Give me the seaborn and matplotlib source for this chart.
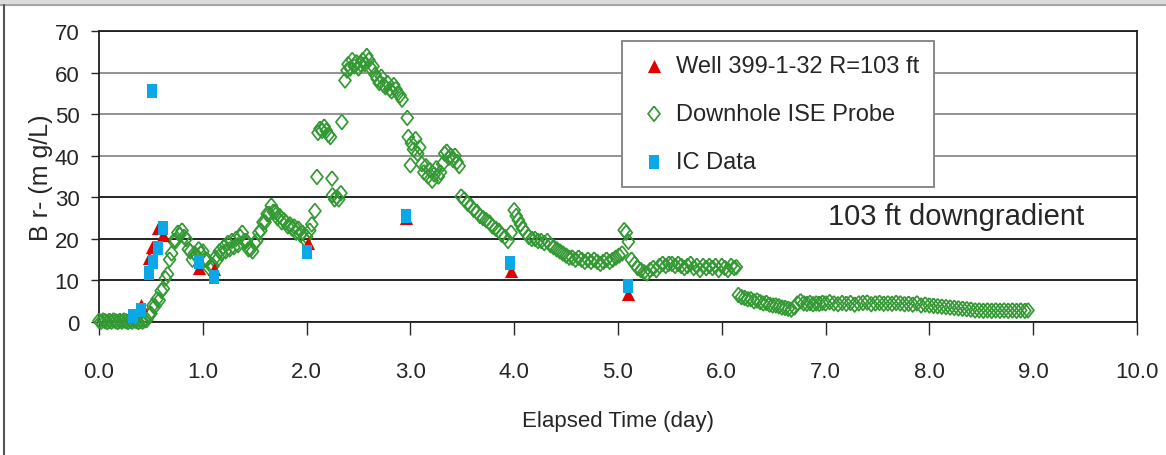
import seaborn as sns
import matplotlib.pyplot as plt
from matplotlib.patches import Rectangle
from matplotlib.lines import Line2D
from matplotlib.ticker import FormatStrFormatter

# Well 399-1-32 R=103 ft (red triangles)
well_t = [0.40, 0.48, 0.51, 0.57, 0.62, 0.96, 1.11, 2.01, 2.96, 3.97, 5.10]
well_br = [4.0, 15.5, 18.0, 22.5, 21.0, 13.0, 12.8, 19.0, 25.0, 12.3, 6.8]

# IC data (blue squares)
ic_t = [0.33, 0.40, 0.48, 0.51, 0.52, 0.57, 0.62, 0.96, 1.11, 2.00, 2.96, 3.96, 5.10]
ic_br = [1.4, 2.9, 11.7, 55.5, 14.5, 17.7, 22.5, 14.5, 10.9, 16.9, 25.4, 14.1, 8.7]

# Downhole ISE probe (green diamonds)
probe_t = [
    0.00, 0.02, 0.04, 0.06, 0.08, 0.10, 0.12, 0.14, 0.16, 0.18, 0.20, 0.22,
    0.24, 0.26, 0.28, 0.30, 0.32, 0.34, 0.36, 0.38, 0.40, 0.42, 0.44,
    0.46, 0.48, 0.50, 0.52, 0.54, 0.56, 0.58, 0.60, 0.62, 0.64, 0.66, 0.68,
    0.70, 0.72, 0.74, 0.76, 0.78, 0.80, 0.82, 0.84, 0.86, 0.88, 0.90, 0.92,
    0.94, 0.96, 0.98, 1.00, 1.02, 1.04, 1.06, 1.08, 1.10, 1.12, 1.14, 1.16,
    1.18, 1.20, 1.22, 1.24, 1.26, 1.28, 1.30, 1.32, 1.34, 1.36, 1.38, 1.40,
    1.42, 1.44, 1.46, 1.48, 1.50, 1.52, 1.54, 1.56, 1.58, 1.60, 1.62, 1.64,
    1.66, 1.68, 1.70, 1.72, 1.74, 1.76, 1.78, 1.80, 1.82, 1.84, 1.86, 1.88,
    1.90, 1.92, 1.94, 1.96, 1.98, 2.00,
    2.03, 2.05, 2.08, 2.10, 2.11, 2.13, 2.15, 2.17, 2.19, 2.21, 2.23, 2.245,
    2.25, 2.27, 2.29, 2.31, 2.33, 2.34, 2.37, 2.39, 2.40, 2.42, 2.44, 2.46,
    2.48, 2.50, 2.52, 2.54, 2.56, 2.58, 2.60, 2.62, 2.64, 2.66, 2.68, 2.70,
    2.72, 2.74, 2.76, 2.78, 2.80, 2.82, 2.84, 2.86, 2.88, 2.90, 2.92, 2.97,
    2.98, 3.00, 3.01, 3.03, 3.05, 3.07, 3.09, 3.11, 3.13, 3.15, 3.17, 3.19,
    3.21, 3.23, 3.25, 3.27, 3.29, 3.31, 3.33, 3.35, 3.37, 3.39, 3.41, 3.43,
    3.45, 3.47, 3.49,
    3.52, 3.55, 3.58, 3.61, 3.64, 3.67, 3.70, 3.73, 3.76, 3.79, 3.82, 3.85,
    3.88, 3.91, 3.94, 3.97, 4.00, 4.02, 4.04, 4.06, 4.08, 4.11, 4.14, 4.17,
    4.20, 4.23, 4.26, 4.29, 4.32, 4.35, 4.38, 4.41, 4.44, 4.47, 4.50, 4.53,
    4.56, 4.59, 4.62, 4.65, 4.68, 4.71, 4.74, 4.77, 4.80, 4.83, 4.86, 4.89,
    4.92, 4.95, 4.98, 5.01, 5.04, 5.06, 5.08, 5.10, 5.13, 5.16, 5.19, 5.22,
    5.25, 5.28, 5.31, 5.34, 5.37, 5.40, 5.43, 5.46, 5.49, 5.52, 5.55, 5.58,
    5.61, 5.64, 5.67, 5.70, 5.73, 5.76, 5.79, 5.82, 5.85, 5.88, 5.91, 5.94,
    5.97, 6.00, 6.03, 6.06, 6.09, 6.12, 6.14,
    6.16, 6.19, 6.22, 6.25, 6.28, 6.31, 6.34, 6.37, 6.40, 6.43, 6.46, 6.49,
    6.52, 6.55, 6.58, 6.61, 6.64, 6.67, 6.70, 6.73, 6.76, 6.79, 6.82, 6.85,
    6.88, 6.91, 6.94, 6.97, 7.00, 7.04, 7.08, 7.12, 7.16, 7.20, 7.24, 7.28,
    7.32, 7.36, 7.40, 7.44, 7.48, 7.52, 7.56, 7.60, 7.64, 7.68, 7.72, 7.76,
    7.80, 7.84, 7.88, 7.92, 7.96, 8.00, 8.04, 8.08, 8.12, 8.16, 8.20, 8.24,
    8.28, 8.32, 8.36, 8.40, 8.44, 8.48, 8.52, 8.56, 8.60, 8.64, 8.68, 8.72,
    8.76, 8.80, 8.84, 8.88, 8.92, 8.95,
]
probe_br = [
    0.3, 0.1, 0.4, 0.2, 0.0, 0.3, 0.1, 0.4, 0.2, 0.0, 0.3, 0.1,
    0.4, 0.2, 0.0, 0.3, 0.1, 0.4, 0.2, 0.0, 0.3, 0.1, 0.4,
    0.5, 1.8, 2.0, 4.0, 3.8, 5.5, 5.2, 7.5, 8.0, 10.5, 11.5, 15.0,
    16.5, 19.5, 19.5, 21.5, 21.0, 22.0, 20.5, 20.0, 17.5, 17.0, 15.0, 16.5,
    16.0, 17.5, 16.5, 17.0, 15.0, 15.0, 13.0, 13.5, 13.5, 15.5, 15.0, 17.0,
    16.5, 18.0, 17.0, 19.0, 17.5, 19.5, 18.0, 20.0, 18.5, 20.5, 21.5, 19.5,
    19.5, 17.5, 17.5, 17.0, 19.0, 19.5, 21.5, 22.0, 24.0, 24.0, 26.0, 26.0,
    28.0, 26.5, 26.5, 25.0, 25.5, 24.0, 24.5, 24.0, 23.0, 23.5, 22.5, 23.0,
    21.5, 22.5, 21.0, 21.5, 20.0, 20.5,
    22.0, 23.5, 26.7, 34.9, 45.5, 46.5, 46.0, 47.0, 46.0, 45.0, 44.5, 34.5,
    30.5, 29.5, 30.0, 29.5, 31.0, 48.1, 58.1, 60.5, 62.0, 61.0, 63.0, 61.5,
    62.5, 61.0, 62.0, 63.0, 62.0, 64.0, 63.0, 61.0, 61.5, 59.5, 58.5, 57.5,
    59.0, 57.0, 56.5, 57.5, 56.0, 55.5, 57.0, 56.0, 55.0, 54.5, 53.5, 49.1,
    44.5, 37.7, 43.0, 41.5, 44.0, 40.5, 42.0, 38.0, 36.0, 37.5, 35.0, 36.5,
    34.0, 35.5, 37.0, 35.0, 36.0, 38.0, 40.5, 41.0, 39.5, 40.0, 39.0, 40.0,
    38.5, 37.5, 30.2,
    29.5, 28.5, 28.0, 27.0, 26.5, 25.5, 25.0, 24.5, 24.0, 23.0, 22.5, 22.0,
    21.0, 20.5, 19.5, 21.5, 26.9, 25.5, 24.5, 23.5, 22.5, 21.5, 20.5, 20.0,
    20.0, 19.5, 19.5, 19.0, 19.5, 18.5, 18.0, 17.5, 17.0, 16.5, 16.0, 15.5,
    15.5, 15.0, 15.5, 15.0, 14.5, 15.0, 14.5, 15.0, 14.5, 14.0, 14.5, 15.0,
    14.5, 15.0, 15.5, 16.0, 16.5, 22.1, 21.5, 19.3, 15.0, 14.0, 13.0, 12.5,
    12.0, 11.7, 12.5, 13.0, 12.5, 13.5, 14.0, 13.5, 14.0, 14.0, 13.5, 14.0,
    13.5, 13.0, 13.5, 14.0, 13.0, 13.5, 12.5, 13.5, 13.0, 13.5, 13.0, 13.5,
    12.5, 13.5, 13.0, 12.5, 13.5, 13.0, 13.2,
    6.5, 6.0, 5.8, 5.5, 5.5, 5.0, 5.2, 4.8, 4.5, 4.6, 4.2, 4.0,
    4.0, 3.8, 3.5, 3.4, 3.2, 3.0, 3.5, 4.5, 5.0, 4.5, 4.4, 4.6,
    4.3, 4.5, 4.4, 4.6, 4.5, 4.8, 4.5, 4.3, 4.6, 4.4, 4.6, 4.2,
    4.5, 4.6, 4.7, 4.3, 4.5, 4.6, 4.4, 4.5, 4.4, 4.6, 4.5, 4.3,
    4.4, 4.2, 4.5, 4.0, 4.2, 4.0, 3.9, 3.8, 3.7, 3.6, 3.5, 3.4,
    3.3, 3.2, 3.1, 3.0, 2.8, 2.8, 2.7, 2.8, 2.7, 2.8, 2.7, 2.8,
    2.7, 2.8, 2.7, 2.8, 2.7, 2.8,
]

yticks = [0, 10, 20, 30, 40, 50, 60, 70]
xticks = [0, 1, 2, 3, 4, 5, 6, 7, 8, 9, 10]

sns.set_style('ticks')
plt.rcParams['font.family'] = ['Liberation Sans', 'DejaVu Sans']

red = '#e00000'
green = '#339933'
blue = '#0aa8e6'
diamond = [(0, 1), (0.8, 0), (0, -1), (-0.8, 0), (0, 1)]
rect = [(-0.75, -1), (0.75, -1), (0.75, 1), (-0.75, 1), (-0.75, -1)]

fig = plt.figure(figsize=(11.66, 4.56), dpi=100)
ax = fig.add_axes([0.0849, 0.2917, 0.8902, 0.6382])

sns.scatterplot(x=probe_t, y=probe_br, marker=diamond, s=115, facecolor='none',
                edgecolor=green, linewidth=1.25, ax=ax, label='Downhole ISE Probe',
                zorder=3, clip_on=False)
sns.scatterplot(x=well_t, y=well_br, marker='^', s=90, color=red, edgecolor=red,
                linewidth=0, ax=ax, label='Well 399-1-32 R=103 ft', zorder=4, clip_on=False)
sns.scatterplot(x=ic_t, y=ic_br, marker=rect, s=95, color=blue, edgecolor=blue,
                linewidth=0, ax=ax, label='IC Data', zorder=5, clip_on=False)

ax.set_xlim(0, 10)
ax.set_ylim(0, 70)
ax.set_xticks(xticks)
ax.set_yticks(yticks)
ax.xaxis.set_major_formatter(FormatStrFormatter('%.1f'))
ax.tick_params(axis='x', direction='out', length=9, width=1, pad=19, labelsize=16)
ax.tick_params(axis='y', direction='out', length=6, width=1, pad=8, labelsize=16)

# horizontal gridlines: upper ones grey, lower ones black as in the source
ax.yaxis.grid(True, linewidth=1.2)
grid_colors = ['k', 'k', 'k', 'k', '#808080', '#808080', '#808080', 'k']
for line, c in zip(ax.get_ygridlines(), grid_colors):
    line.set_color(c)
ax.set_axisbelow(True)

for sp in ax.spines.values():
    sp.set_visible(True)
    sp.set_color('#202020')
    sp.set_linewidth(1.3)

ax.set_xlabel('Elapsed Time (day)', fontsize=16, labelpad=20)
ax.set_ylabel('B r- (m g/L)', fontsize=18)
ax.yaxis.set_label_coords(-0.044, 0.5)

ax.text(8.26, 25.6, '103 ft downgradient', ha='center', va='center', fontsize=21)

handles, labels = ax.get_legend_handles_labels()
order = [labels.index('Well 399-1-32 R=103 ft'), labels.index('Downhole ISE Probe'),
         labels.index('IC Data')]
leg = ax.legend([handles[i] for i in order], [labels[i] for i in order],
                loc='upper left', bbox_to_anchor=(0.504, 0.966), borderaxespad=0,
                frameon=True, fancybox=False, edgecolor='#808080', fontsize=17,
                labelspacing=1.1, handlelength=1.5, handletextpad=0.2, borderpad=0.6,
                framealpha=1)
leg.get_frame().set_linewidth(1.3)

# window chrome around the pasted chart
fig.patches.append(Rectangle((0, 1 - 6 / 456), 1, 6 / 456, transform=fig.transFigure,
                             color='#dcdcdc', zorder=0))
fig.lines.append(Line2D([0, 1], [1 - 6 / 456] * 2, transform=fig.transFigure,
                        color='#9a9a9a', lw=1.2))
fig.lines.append(Line2D([4 / 1166] * 2, [0, 1 - 6 / 456], transform=fig.transFigure,
                        color='#555555', lw=1.5))

fig.savefig('out.png', dpi=100)
